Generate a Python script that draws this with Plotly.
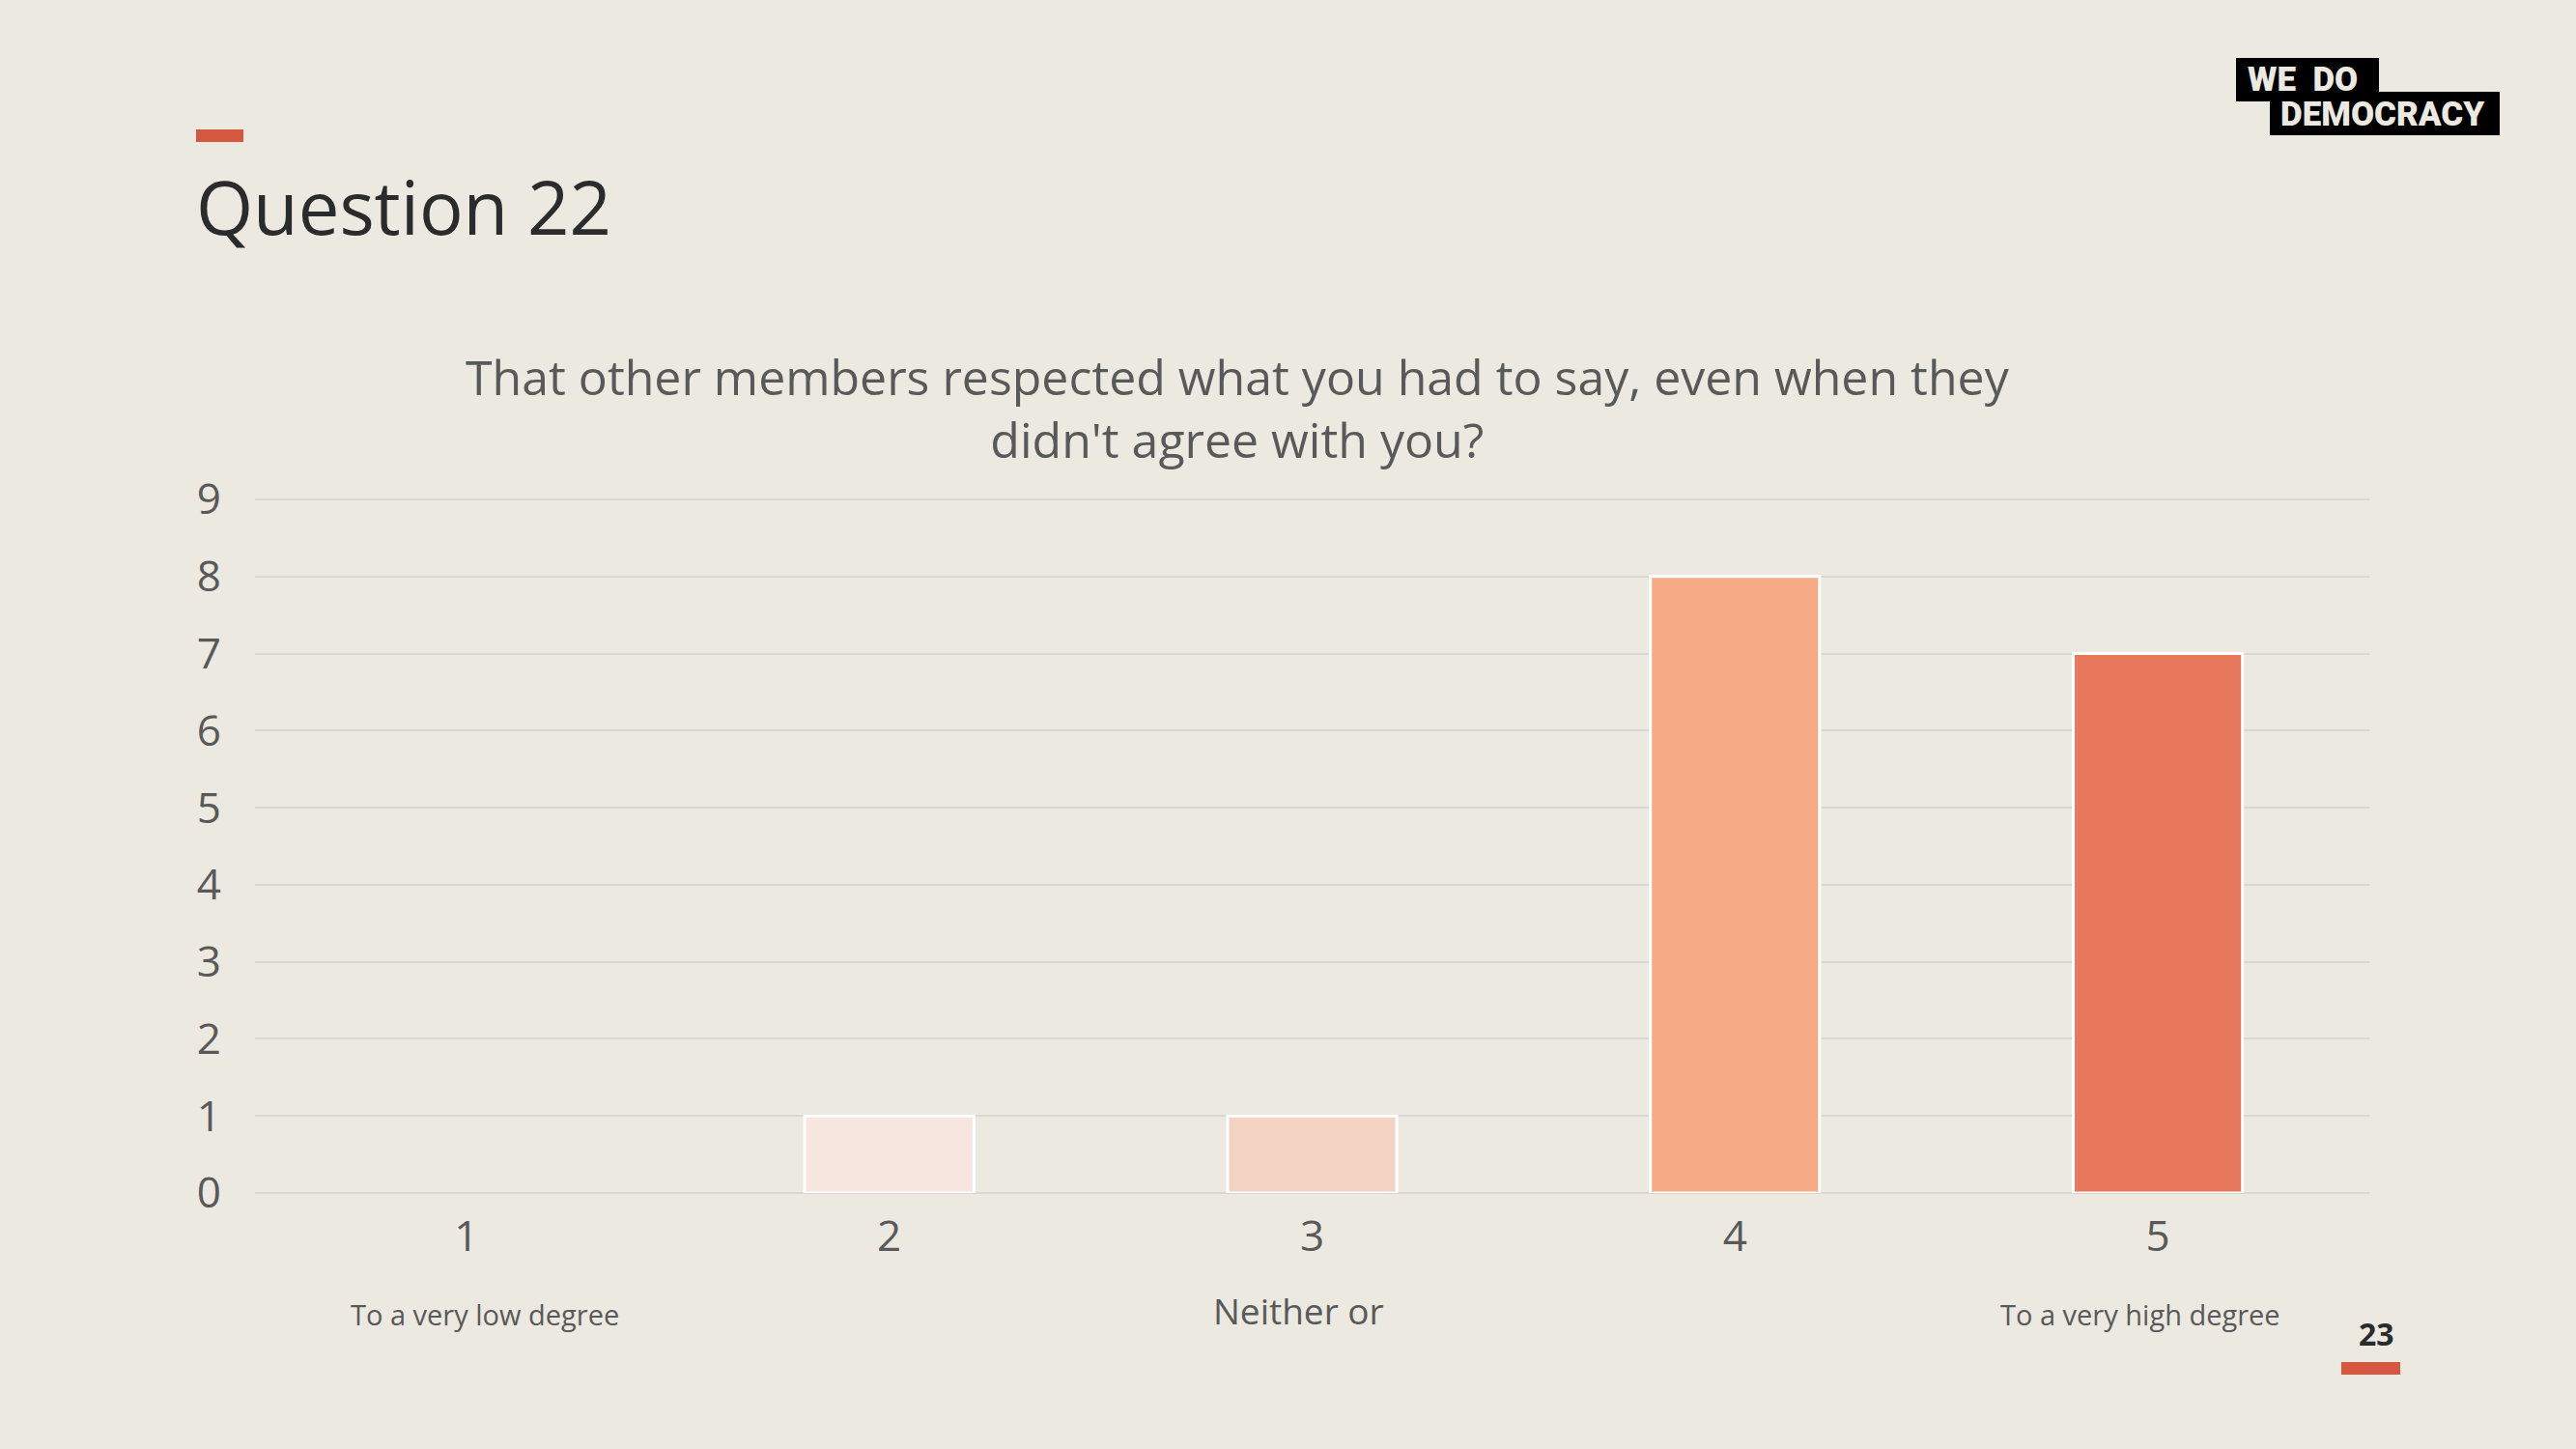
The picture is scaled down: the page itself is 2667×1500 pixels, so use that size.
import plotly.graph_objects as go

categories = ["1", "2", "3", "4", "5"]
values = [0, 1, 1, 8, 7]
bar_colors = ["#F6E6DF", "#F6E6DF", "#F5D3C2", "#F6AA85", "#E8785C"]
y_ticks = [0, 1, 2, 3, 4, 5, 6, 7, 8, 9]
title_lines = ["That other members respected what you had to say, even when they",
               "didn't agree with you?"]
heading = "Question 22"
scale_labels = ["To a very low degree", "Neither or", "To a very high degree"]
page_number = "23"

W, H = 2667, 1500
L, R, T, B = 264, 2453, 513, 1235
Y_MAX = 9.05
BG = "#ECE9E0"
FONT = "Open Sans"


def px(x):
    return (x - L) / (R - L)


def py(y):
    return (B - y) / (B - T)


fig = go.Figure()
fig.add_trace(go.Bar(
    x=categories, y=values,
    marker=dict(color=bar_colors,
                line=dict(color="white", width=[0 if v == 0 else 3 for v in values])),
    width=0.4,
    hoverinfo="skip",
))

fig.update_layout(
    width=W, height=H,
    margin=dict(l=L, r=W - R, t=T, b=H - B, pad=0),
    paper_bgcolor=BG, plot_bgcolor=BG,
    showlegend=False,
    font=dict(family=FONT, color="#595959"),
    bargap=0.6,
)
fig.update_xaxes(
    type="category", range=[-0.5, 4.5], showgrid=False, zeroline=False,
    showline=False, ticks="", tickfont=dict(size=44, color="#595959"),
    ticklabelstandoff=15,
)
fig.update_yaxes(
    range=[0, Y_MAX], tickvals=y_ticks, showgrid=True, gridcolor="#DAD7D2",
    gridwidth=2, zeroline=True, zerolinecolor="#DAD7D2", zerolinewidth=2,
    showline=False, ticks="", tickfont=dict(size=44, color="#595959"),
    ticklabelstandoff=34,
)

ann = []
# chart title (two lines)
ann.append(dict(x=px(1281), y=py(422), xref="paper", yref="paper",
                text="<br>".join(title_lines),
                showarrow=False, xanchor="center", yanchor="middle", align="center",
                font=dict(size=50, color="#595959", family=FONT)))
# heading
ann.append(dict(x=px(201), y=py(213), xref="paper", yref="paper", text=heading,
                showarrow=False, xanchor="left", yanchor="middle",
                font=dict(size=76, color="#2A2B2C", family=FONT)))
# scale labels
ann.append(dict(x=px(502), y=py(1360), xref="paper", yref="paper", text=scale_labels[0],
                showarrow=False, xanchor="center", yanchor="middle",
                font=dict(size=29, color="#595959", family=FONT)))
ann.append(dict(x=px(1344), y=py(1356), xref="paper", yref="paper", text=scale_labels[1],
                showarrow=False, xanchor="center", yanchor="middle",
                font=dict(size=37, color="#595959", family=FONT)))
ann.append(dict(x=px(2216), y=py(1360), xref="paper", yref="paper", text=scale_labels[2],
                showarrow=False, xanchor="center", yanchor="middle",
                font=dict(size=29, color="#595959", family=FONT)))
# page number
ann.append(dict(x=px(2460), y=py(1380), xref="paper", yref="paper", text="<b>" + page_number + "</b>",
                showarrow=False, xanchor="center", yanchor="middle",
                font=dict(size=32, color="#2A2B2C", family=FONT)))
# logo text
ann.append(dict(x=px(2325), y=py(83), xref="paper", yref="paper", text="WE  DO",
                showarrow=False, xanchor="left", yanchor="middle",
                font=dict(size=35, color=BG, family="Roboto", weight=900)))
ann.append(dict(x=px(2359), y=py(118), xref="paper", yref="paper", text="DEMOCRACY",
                showarrow=False, xanchor="left", yanchor="middle",
                font=dict(size=35, color=BG, family="Roboto", weight=900)))
fig.update_layout(annotations=ann)

shapes = []
# red dashes
shapes.append(dict(type="rect", xref="paper", yref="paper", x0=px(203), x1=px(252),
                   y0=py(134), y1=py(147), fillcolor="#D6573F", line=dict(width=0), layer="above"))
shapes.append(dict(type="rect", xref="paper", yref="paper", x0=px(2424), x1=px(2485),
                   y0=py(1410), y1=py(1423), fillcolor="#D6573F", line=dict(width=0), layer="above"))
# logo blocks
shapes.append(dict(type="rect", xref="paper", yref="paper", x0=px(2315), x1=px(2463),
                   y0=py(60), y1=py(105), fillcolor="#000000", line=dict(width=0), layer="below"))
shapes.append(dict(type="rect", xref="paper", yref="paper", x0=px(2350), x1=px(2588),
                   y0=py(95), y1=py(140), fillcolor="#000000", line=dict(width=0), layer="below"))
fig.update_layout(shapes=shapes)

fig.write_html("out.html")
